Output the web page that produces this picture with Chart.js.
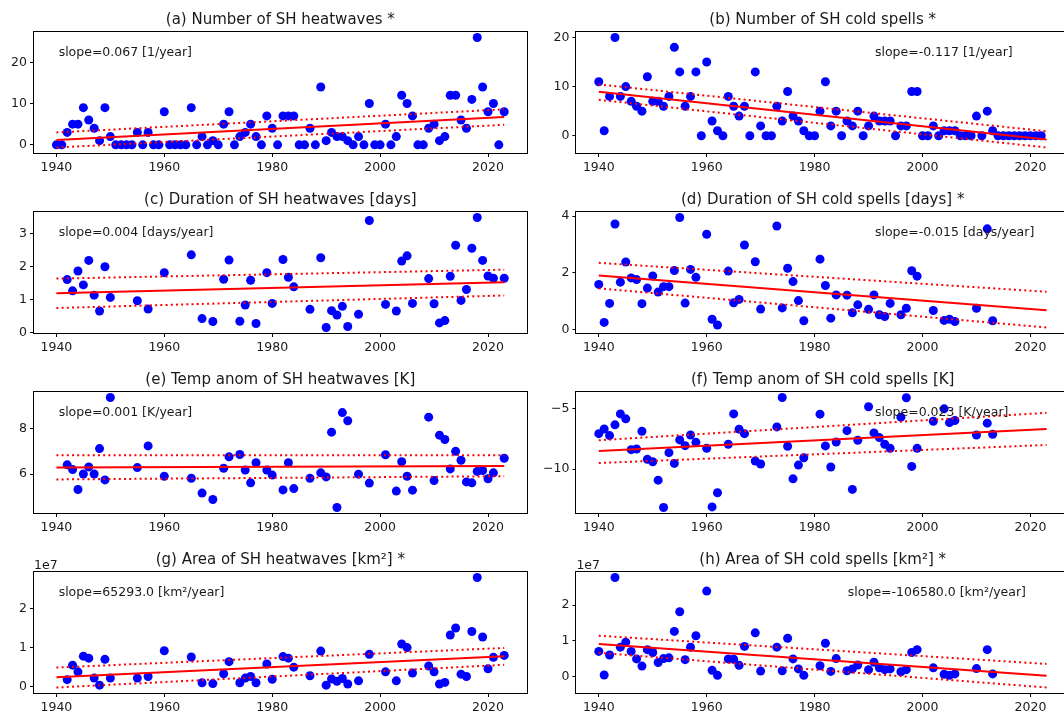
<!DOCTYPE html>
<html>
<head>
<meta charset="utf-8">
<script src="https://cdn.jsdelivr.net/npm/chart.js@4.4.1/dist/chart.umd.min.js"></script>
<style>
  html, body { margin: 0; padding: 0; background: #fff; width: 1064px; height: 713px; overflow: hidden; }
  #fig { position: relative; width: 1064px; height: 713px; }
  canvas { position: absolute; }
</style>
</head>
<body>
<div id="fig"></div>
<script>
// ---- data ----
const yearsAll = Array.from({ length: 84 }, (_, i) => 1940 + i);
const yearsCold = yearsAll.slice(0, 83);

const heatYears = [1942,1943,1944,1945,1946,1947,1948,1949,1950,1955,1957,1960,1965,1967,1969,1971,1972,
  1974,1975,1976,1977,1979,1980,1982,1983,1984,1987,1989,1990,1991,1992,1993,1994,1996,1998,2001,
  2003,2004,2005,2006,2009,2010,2011,2012,2013,2014,2015,2016,2017,2018,2019,2020,2021,2023];
const coldYears = [1940,1941,1942,1943,1944,1945,1946,1947,1948,1949,1950,1951,1952,1953,1954,1955,1956,1957,1958,
  1960,1961,1962,1964,1965,1966,1967,1969,1970,1973,1974,1975,1976,1977,1978,1981,1982,1983,1984,
  1986,1987,1988,1990,1991,1992,1993,1994,1996,1997,1998,1999,2002,2004,2005,2006,2010,2012,2013];

const heatCount = [0,0,3,5,5,9,6,4,1,9, 2,0,0,0,0,3,0,3,0,0, 8,0,0,0,0,9,0,2,0,1, 0,5,8,0,2,3,5,2,0,7,
  4,0,7,7,7,0,0,4,0,14, 1,3,2,2,1,0,2,0,10,0, 0,5,0,2,12,10,7,0,0,4, 5,1,2,12,12,6,4,11,26,14, 8,10,0,8];
const coldCount = [11,1,8,20,8,10,7,6,5,12, 7,7,6,8,18,13,6,8,13,0, 15,3,1,0,8,6,4,6,0,13, 2,0,0,6,3,9,4,3,1,0,
  0,5,11,2,5,0,3,2,5,0, 2,4,3,3,3,0,2,2,9,9, 0,0,2,0,1,1,1,0,0,0, 4,0,5,1,0,0,0,0,0,0, 0,0,0];

const heatDur = [1.61,1.27,1.87,1.45,2.19,1.14,0.66,2.0,1.07,0.97,0.72,1.82,2.36,0.43,0.34,1.62,2.2,
  0.35,0.84,1.59,0.28,1.82,0.89,2.22,1.68,1.39,0.71,2.27,0.16,0.67,0.54,0.8,0.19,0.56,3.4,0.86,
  0.66,2.17,2.33,0.89,1.64,0.88,0.3,0.37,1.71,2.65,0.98,1.31,2.56,3.49,2.19,1.72,1.65,1.65];
const coldDur = [1.59,0.25,0.92,3.72,1.67,2.38,1.82,1.76,0.91,1.46,1.89,1.32,1.51,1.51,2.08,3.95,0.93,2.12,1.84,
  3.36,0.36,0.16,2.06,0.94,1.06,2.98,2.39,0.72,3.65,0.76,2.16,1.69,1.02,0.31,2.48,1.55,0.4,1.22,
  1.21,0.59,0.87,0.71,1.22,0.52,0.46,0.92,0.52,0.75,2.07,1.88,0.67,0.32,0.36,0.28,0.75,3.55,0.31];

const heatAnom = [6.41,6.2,5.33,6.01,6.32,6.01,7.12,5.75,9.36,6.29,7.24,5.91,5.82,5.17,4.89,6.26,6.76,
  6.86,6.18,5.62,6.5,6.18,5.96,5.31,6.5,5.37,5.82,6.06,5.88,7.84,4.54,8.7,8.34,6.0,5.61,6.85,
  5.26,6.55,5.91,5.3,8.5,5.72,7.71,7.52,6.23,7.0,6.61,5.66,5.62,6.12,6.16,5.8,6.06,6.7];
const coldAnom = [-7.06,-6.67,-7.22,-6.33,-5.42,-5.83,-8.39,-8.33,-6.86,-9.19,-9.39,-10.92,-13.19,-8.64,-9.53,-7.58,-8.06,-7.17,-7.78,
  -8.28,-13.14,-11.97,-7.94,-5.42,-6.69,-7.06,-9.33,-9.58,-6.5,-4.06,-8.11,-10.81,-9.67,-9.06,-5.44,-8.08,-9.83,-7.75,
  -6.81,-11.69,-7.61,-4.83,-7.0,-7.39,-7.94,-8.28,-5.69,-4.08,-9.78,-8.28,-6.03,-5.0,-6.14,-5.97,-7.17,-6.19,-7.11];

// areas in units of 1e7 km2
const heatArea = [0.18,0.55,0.38,0.78,0.73,0.22,0.04,0.7,0.22,0.22,0.26,0.92,0.76,0.1,0.08,0.33,0.64,
  0.1,0.22,0.26,0.1,0.58,0.19,0.77,0.73,0.5,0.28,0.91,0.04,0.2,0.14,0.21,0.07,0.15,0.83,0.38,
  0.15,1.09,1.0,0.35,0.53,0.38,0.07,0.11,1.32,1.5,0.32,0.26,1.41,2.79,1.27,0.46,0.75,0.8];
const coldArea = [0.7,0.04,0.6,2.77,0.82,0.96,0.7,0.49,0.29,0.75,0.67,0.39,0.5,0.52,1.26,1.81,0.47,0.82,1.14,
  2.39,0.17,0.03,0.49,0.48,0.31,0.84,1.22,0.15,0.82,0.16,1.07,0.49,0.21,0.03,0.3,0.93,0.14,0.5,
  0.16,0.21,0.32,0.19,0.4,0.24,0.19,0.21,0.13,0.19,0.67,0.75,0.24,0.06,0.03,0.07,0.22,0.75,0.07];

// regression line and bounds, value at 1940 and 2023
const trendYears = [1940, 2023];
const fitA = [1.15, 6.71],   upA = [3.0, 8.6],     loA = [-0.65, 4.85];
const fitB = [8.95, -0.76],  upB = [10.45, 0.9],   loB = [7.3, -2.4];
const fitC = [1.2, 1.53],    upC = [1.64, 1.91],   loC = [0.75, 1.13];
const fitD = [1.9, 0.68],    upD = [2.35, 1.33],   loD = [1.45, 0.07];
const fitE = [6.29, 6.36],   upE = [6.83, 6.83],   loE = [5.77, 5.91];
const fitF = [-8.5, -6.67],  upF = [-7.61, -5.33], loF = [-9.5, -8.0];
const fitG = [0.24, 0.78],   upG = [0.49, 0.99],   loG = [-0.02, 0.56];
const fitH = [0.91, 0.02],   upH = [1.14, 0.35],   loH = [0.66, -0.31];

const xTicks = [1940, 1960, 1980, 2000, 2020];
const yTicksA = [0, 10, 20], yTicksB = [0, 10, 20];
const yTicksC = [0, 1, 2, 3], yTicksD = [0, 2, 4];
const yTicksE = [6, 8], yTicksF = [-10, -5];
const yTicksG = [0, 1, 2], yTicksH = [0, 1, 2];

const titles = [
  "(a) Number of SH heatwaves *", "(b) Number of SH cold spells *",
  "(c) Duration of SH heatwaves [days]", "(d) Duration of SH cold spells [days] *",
  "(e) Temp anom of SH heatwaves [K]", "(f) Temp anom of SH cold spells [K]",
  "(g) Area of SH heatwaves [km\u00B2] *", "(h) Area of SH cold spells [km\u00B2] *"
];
const slopes = [
  "slope=0.067 [1/year]", "slope=-0.117 [1/year]",
  "slope=0.004 [days/year]", "slope=-0.015 [days/year]",
  "slope=0.001 [K/year]", "slope=0.023 [K/year]",
  "slope=65293.0 [km\u00B2/year]", "slope=-106580.0 [km\u00B2/year]"
];

const FONT = '"DejaVu Sans", "Liberation Sans", sans-serif';
const INK = '#1a1a1a';

const decor = {
  id: 'decor',
  afterDatasetsDraw(chart, args, o) {
    const { ctx, chartArea: a } = chart;
    ctx.save();
    ctx.fillStyle = INK;
    ctx.font = '12.5px ' + FONT;
    ctx.textAlign = 'left';
    ctx.textBaseline = 'middle';
    ctx.fillText(o.slope, a.left + o.slopeX * (a.right - a.left), a.top + 0.175 * (a.bottom - a.top));
    ctx.restore();
  },
  afterDraw(chart, args, o) {
    const { ctx, chartArea: a } = chart;
    ctx.save();
    ctx.strokeStyle = '#000';
    ctx.lineWidth = 1;
    const l = Math.round(a.left) - 0.5, t = Math.round(a.top) - 0.5;
    ctx.strokeRect(l, t, Math.round(a.right) - Math.round(a.left) + 1, Math.round(a.bottom) - Math.round(a.top) + 1);
    ctx.fillStyle = INK;
    ctx.font = '15px ' + FONT;
    ctx.textAlign = 'center';
    ctx.textBaseline = 'middle';
    ctx.fillText(o.title, (a.left + a.right) / 2, a.top - 12);
    if (o.offset) {
      ctx.font = '12.5px ' + FONT;
      ctx.textAlign = 'left';
      ctx.textBaseline = 'alphabetic';
      ctx.fillText(o.offset, a.left, a.top - 3);
    }
    ctx.restore();
  }
};

function trendData(vals) {
  return trendYears.map((x, i) => ({ x: x, y: vals[i] }));
}

function lineSet(vals, dotted) {
  return {
    type: 'line', data: trendData(vals), borderColor: '#ff0000', borderWidth: 2,
    borderDash: dotted ? [2, 3.2] : [], pointRadius: 0, fill: false, tension: 0
  };
}

function minus(v) { return v < 0 ? '\u2212' + Math.abs(v) : String(v); }

function panel(idx, xs, ys, fit, up, lo, yTicks, slopeX, offset) {
  const col = idx % 2, row = Math.floor(idx / 2);
  const cv = document.createElement('canvas');
  cv.width = col === 0 ? 532 : 545;
  cv.height = 180;
  cv.style.left = (col === 0 ? 0 : 532) + 'px';
  cv.style.top = (row * 180) + 'px';
  document.getElementById('fig').appendChild(cv);

  const areaLeft = col === 0 ? 34 : 44.4;
  const padRight = col === 0 ? 5.4 : 8;
  const areaTop = 32, areaBottom = 153;

  const all = ys.concat(fit, up, lo);
  const lo0 = Math.min(...all), hi0 = Math.max(...all), m = (hi0 - lo0) * 0.05;

  new Chart(cv, {
    type: 'scatter',
    data: {
      datasets: [
        lineSet(fit, false), lineSet(up, true), lineSet(lo, true),
        {
          data: xs.map((x, i) => ({ x: x, y: ys[i] })),
          backgroundColor: '#0000ff', borderWidth: 0, pointRadius: 4.5, pointHoverRadius: 4.5
        }
      ]
    },
    options: {
      responsive: false, animation: false, events: [],
      layout: { padding: { top: areaTop, right: padRight, bottom: 0, left: 0 } },
      plugins: {
        legend: { display: false }, tooltip: { enabled: false },
        decor: { title: titles[idx], slope: slopes[idx], slopeX: slopeX, offset: offset }
      },
      scales: {
        x: {
          type: 'linear', min: 1935.85, max: 2027.15,
          afterBuildTicks: s => { s.ticks = xTicks.map(v => ({ value: v })); },
          afterFit: s => { s.height = 180 - areaBottom; },
          ticks: { color: INK, font: { family: FONT, size: 12.5 }, padding: 3, maxRotation: 0, callback: v => String(v) },
          grid: { drawOnChartArea: false, drawTicks: true, tickLength: 4, color: '#000', lineWidth: 1 },
          border: { display: false }
        },
        y: {
          type: 'linear', min: lo0 - m, max: hi0 + m,
          afterBuildTicks: s => { s.ticks = yTicks.map(v => ({ value: v })); },
          afterFit: s => { s.width = areaLeft; },
          ticks: { color: INK, font: { family: FONT, size: 12.5 }, padding: 3, callback: v => minus(v) },
          grid: { drawOnChartArea: false, drawTicks: true, tickLength: 4, color: '#000', lineWidth: 1 },
          border: { display: false }
        }
      }
    },
    plugins: [decor]
  });
}

panel(0, yearsAll, heatCount, fitA, upA, loA, yTicksA, 0.05, null);
panel(1, yearsCold, coldCount, fitB, upB, loB, yTicksB, 0.606, null);
panel(2, heatYears, heatDur, fitC, upC, loC, yTicksC, 0.05, null);
panel(3, coldYears, coldDur, fitD, upD, loD, yTicksD, 0.606, null);
panel(4, heatYears, heatAnom, fitE, upE, loE, yTicksE, 0.05, null);
panel(5, coldYears, coldAnom, fitF, upF, loF, yTicksF, 0.606, null);
panel(6, heatYears, heatArea, fitG, upG, loG, yTicksG, 0.05, '1e7');
panel(7, coldYears, coldArea, fitH, upH, loH, yTicksH, 0.551, '1e7');
</script>
</body>
</html>
